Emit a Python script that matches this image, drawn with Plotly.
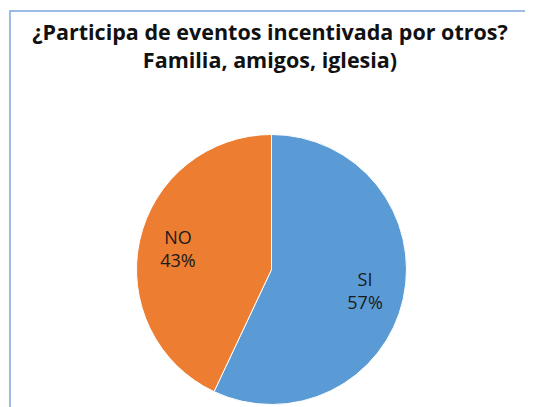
import plotly.graph_objects as go

labels = ["SI", "NO"]
values = [57, 43]
colors = ["#5B9BD5", "#ED7D31"]
title_lines = ["¿Participa de eventos incentivada por otros?", "Familia, amigos, iglesia)"]

# the page body adds an 8px offset, so the figure is sized to fit the 533x407 window
W, H = 525, 399
dom_x = [128.5 / W, 398.5 / W]
dom_y = [(H - 397) / H, (H - 126) / H]

fig = go.Figure()
# filled pie (no text)
fig.add_trace(go.Pie(
    labels=labels, values=values, sort=False, direction="clockwise", rotation=0,
    marker=dict(colors=colors, line=dict(color="white", width=1)),
    textinfo="none", showlegend=False, hoverinfo="label+percent",
    domain=dict(x=dom_x, y=dom_y),
))
# transparent ring overlay carrying the labels further out in each slice
fig.add_trace(go.Pie(
    labels=labels, values=values, sort=False, direction="clockwise", rotation=0,
    hole=0.42,
    marker=dict(colors=["rgba(0,0,0,0)"] * len(values), line=dict(width=0)),
    texttemplate="%{label}<br>%{percent:.0%}",
    textposition="inside", insidetextorientation="horizontal",
    textfont=dict(family="Open Sans", size=18, color="#1a1a1a"),
    showlegend=False, hoverinfo="skip",
    domain=dict(x=dom_x, y=dom_y),
))

fig.add_shape(type="rect", xref="paper", yref="paper",
              x0=2 / W, x1=1.1, y0=-0.1, y1=(H - 3) / H,
              line=dict(color="#7FA7DA", width=1.5), fillcolor="rgba(0,0,0,0)")

fig.update_layout(
    width=W, height=H,
    margin=dict(l=0, r=0, t=0, b=0),
    paper_bgcolor="white",
    plot_bgcolor="white",
    title=dict(
        text="<b>" + title_lines[0] + "<br>" + title_lines[1] + "</b>",
        x=262 / W, xanchor="center", y=(H - 32) / H, yanchor="top",
        font=dict(family="Open Sans", size=21.5, color="#111111"),
    ),
)

fig.write_html("out.html", config={"displayModeBar": False})
